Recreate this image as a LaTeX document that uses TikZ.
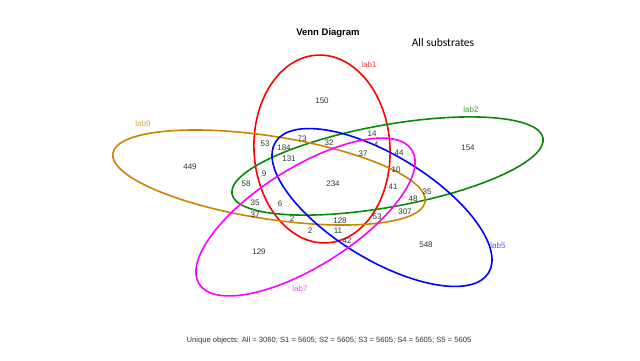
\documentclass[tikz,border=0pt]{standalone}
\usepackage{fontspec}
\setmainfont{Liberation Sans}
\newfontfamily\carl{Carlito}
\definecolor{cred}{HTML}{FF0000}
\definecolor{cgreen}{HTML}{088A08}
\definecolor{corange}{HTML}{CD8500}
\definecolor{cblue}{HTML}{0000FF}
\definecolor{cmag}{HTML}{FF00FF}
\definecolor{numcol}{HTML}{333333}
\tikzset{
  vset/.style={line width=1.6pt},
  num/.style={font=\fontsize{8}{9}\selectfont, text=numcol, inner sep=0pt},
  setlab/.style={font=\fontsize{8}{9}\selectfont, inner sep=0pt},
}
\begin{document}
\begin{tikzpicture}[x=1pt,y=1pt]
\useasboundingbox (0,0) rectangle (640,360);
\fill[white] (0,0) rectangle (640,360);
% ellipses
\draw[vset, cred, rotate around={3:(322,211)}] (322,211) ellipse [x radius=68, y radius=94];
\draw[vset, cgreen, rotate around={10.2:(387.5,194)}] (387.5,194) ellipse [x radius=158, y radius=41];
\draw[vset, corange, rotate around={-8.8:(269,182.5)}] (269,182.5) ellipse [x radius=158, y radius=41.4];
\draw[vset, cblue, rotate around={-31.5:(382,152.5)}] (382,152.5) ellipse [x radius=125, y radius=52];
\draw[vset, cmag, rotate around={32.2:(305.5,143)}] (305.5,143) ellipse [x radius=125.7, y radius=49.3];
% titles
\node[font=\bfseries\fontsize{9.5}{11}\selectfont, inner sep=0pt] (title) at (328,327) {Venn Diagram};
\node[font=\carl\fontsize{11.5}{13}\selectfont, inner sep=0pt] (sub) at (443,317) {All substrates};
% set labels
\node[setlab, text=cred!75] (lab1) at (369,295) {lab1};
\node[setlab, text=cgreen!80] (lab2) at (471,250) {lab2};
\node[setlab, text=corange!75] (lab9) at (143,236) {lab9};
\node[setlab, text=cblue!65] (lab5) at (498,114) {lab5};
\node[setlab, text=cmag!70] (lab7) at (300,71) {lab7};
% numbers
\node[num] (n150) at (322,259) {150};
\node[num] (n53a) at (265,216) {53};
\node[num] (n73) at (302,221) {73};
\node[num] (n184) at (284,212) {184};
\node[num] (n32) at (329,217) {32};
\node[num] (n14) at (372,226) {14};
\node[num] (n4) at (376,215.5) {4};
\node[num] (n37a) at (363,206) {37};
\node[num] (n44) at (399,207) {44};
\node[num] (n131) at (289,201) {131};
\node[num] (n10) at (396,190.5) {10};
\node[num] (n9) at (264,186.5) {9};
\node[num] (n58) at (246,176) {58};
\node[num] (n234) at (333,176) {234};
\node[num] (n41) at (393,173) {41};
\node[num] (n35a) at (427,168) {35};
\node[num] (n48) at (413,161.5) {48};
\node[num] (n35b) at (255,157) {35};
\node[num] (n6) at (280,156.5) {6};
\node[num] (n307) at (405,148) {307};
\node[num] (n37b) at (255,145.5) {37};
\node[num] (n2a) at (292,141) {2};
\node[num] (n128) at (340,139) {128};
\node[num] (n53b) at (377,143) {53};
\node[num] (n2b) at (310,129) {2};
\node[num] (n11) at (338,129) {11};
\node[num] (n42) at (347,119) {42};
\node[num] (n449) at (190,193) {449};
\node[num] (n154) at (468,212) {154};
\node[num] (n548) at (426,115) {548};
\node[num] (n129) at (259,108) {129};
% footer
\node[font=\fontsize{7.6}{9}\selectfont, text=numcol, inner sep=0pt] (foot) at (329,19) {Unique objects: All = 3060; S1 = 5605; S2 = 5605; S3 = 5605; S4 = 5605; S5 = 5605};
\end{tikzpicture}
\end{document}
